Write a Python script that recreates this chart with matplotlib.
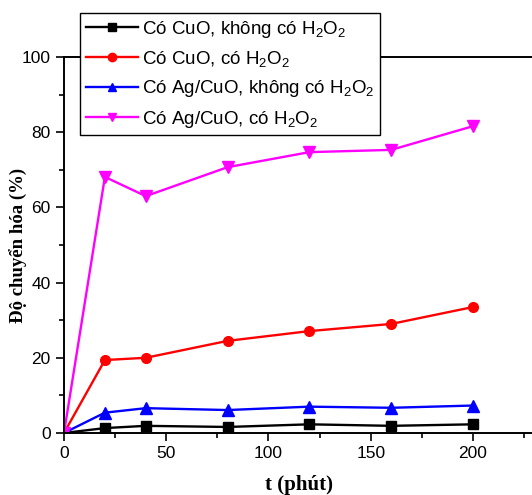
import matplotlib
matplotlib.use("Agg")
import matplotlib.pyplot as plt
from matplotlib.ticker import MultipleLocator

plt.rcParams['font.family'] = ['Liberation Sans', 'DejaVu Sans']
plt.rcParams['mathtext.fontset'] = 'custom'
plt.rcParams['mathtext.rm'] = 'Liberation Sans'
plt.rcParams['mathtext.it'] = 'Liberation Sans'

t = [0, 20, 40, 80, 120, 160, 200]
cuo_no_h2o2 = [0, 1.3, 1.9, 1.6, 2.3, 1.9, 2.3]
cuo_h2o2 = [0, 19.4, 20.0, 24.5, 27.1, 29.0, 33.5]
agcuo_no_h2o2 = [0, 5.4, 6.6, 6.1, 7.0, 6.7, 7.3]
agcuo_h2o2 = [0, 68.1, 63.0, 70.7, 74.7, 75.3, 81.6]

labels = [
    r"Có CuO, không có H$_2$O$_2$",
    r"Có CuO, có H$_2$O$_2$",
    r"Có Ag/CuO, không có H$_2$O$_2$",
    r"Có Ag/CuO, có H$_2$O$_2$",
]

fig = plt.figure(figsize=(5.32, 4.95), dpi=100)
ax = fig.add_axes([0.1203, 0.1253, 0.884, 0.7595])

ax.plot(t, cuo_no_h2o2, color='black', marker='s', ms=6.5, lw=1.7, label=labels[0])
ax.plot(t, cuo_h2o2, color='#ff0000', marker='o', ms=7, lw=1.7, label=labels[1])
ax.plot(t, agcuo_no_h2o2, color='#0000ff', marker='^', ms=8, lw=1.7, label=labels[2])
ax.plot(t, agcuo_h2o2, color='#ff00ff', marker='v', ms=8, lw=1.7, label=labels[3])

ax.set_xlim(0, 230)
ax.set_ylim(0, 100)
ax.xaxis.set_major_locator(MultipleLocator(50))
ax.xaxis.set_minor_locator(MultipleLocator(25))
ax.yaxis.set_major_locator(MultipleLocator(20))
ax.yaxis.set_minor_locator(MultipleLocator(10))
ax.tick_params(which='both', direction='out', labelsize=12.5, width=1.2)
ax.tick_params(which='major', length=6)
ax.tick_params(which='minor', length=3.5)
ax.spines['right'].set_visible(False)
for s in ['left', 'bottom', 'top']:
    ax.spines[s].set_linewidth(1.4)

ax.set_xlabel("t (phút)", fontfamily='Liberation Serif', fontweight='bold', fontsize=15)
ax.xaxis.set_label_coords(0.5, -0.112)
ax.xaxis.label.set_va('top')
ax.set_ylabel("Độ chuyển hóa (%)", fontfamily='Liberation Serif', fontweight='bold', fontsize=13.5)
ax.yaxis.set_label_coords(-0.076, 0.5)

leg = ax.legend(loc='upper left', bbox_to_anchor=(0.034, 1.117), fontsize=13.5,
                frameon=True, fancybox=False, edgecolor='black', framealpha=1,
                handlelength=2.8, handletextpad=0.2, borderpad=0.3, labelspacing=0.5,
                borderaxespad=0)
leg.get_frame().set_linewidth(1.0)
for h in leg.legend_handles:
    h.set_markersize(6)

fig.savefig("out.png", dpi=100)
